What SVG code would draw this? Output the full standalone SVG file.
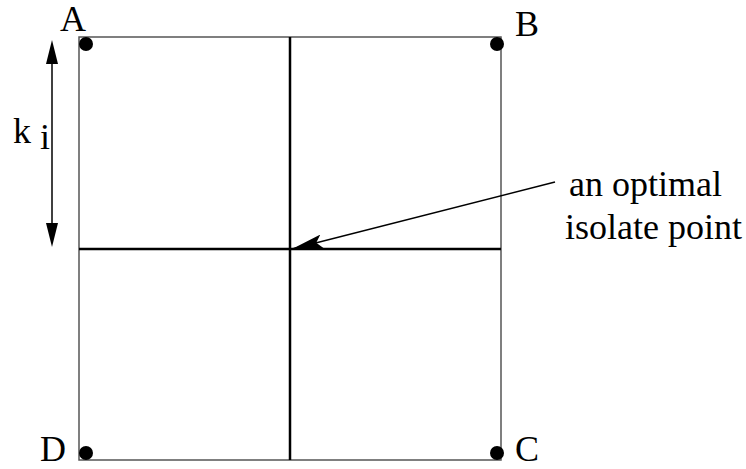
<svg xmlns="http://www.w3.org/2000/svg" width="746" height="469" viewBox="0 0 746 469">
<style>
text{font-family:'Liberation Serif','Times New Roman',serif;font-size:36px;fill:#000}
.frame{fill:none;stroke:#555;stroke-width:1.5}
.mid{stroke:#000;stroke-width:2.5}
.dot{fill:#000}
.conn{stroke:#000;stroke-width:1.5;fill:none}
</style>
<defs>
<marker id="sw" viewBox="0 0 32 14" refX="31" refY="7" markerWidth="32" markerHeight="14" markerUnits="userSpaceOnUse" orient="auto">
<path d="M0,0 L31,7 L0,14 L6,7 Z" fill="#000"/>
</marker>
</defs>
<g id="square">
<rect class="frame" x="79" y="37" width="422" height="423"/>
<line class="mid" x1="79" y1="249" x2="501" y2="249"/>
<line class="mid" x1="290" y1="37" x2="290" y2="460"/>
</g>
<g id="A"><circle class="dot" cx="86" cy="44" r="7"/><text x="60" y="31">A</text></g>
<g id="B"><circle class="dot" cx="497" cy="44" r="7"/><text x="515" y="36">B</text></g>
<g id="C"><circle class="dot" cx="497" cy="453" r="7"/><text x="515" y="461">C</text></g>
<g id="D"><circle class="dot" cx="86" cy="453" r="7"/><text x="40" y="461">D</text></g>
<g id="ki"><text x="13" y="143">k</text><text x="40" y="149">i</text></g>
<g id="note"><text x="569" y="196">an optimal</text><text x="565" y="239">isolate point</text></g>
<g id="connectors">
<line class="conn" x1="52" y1="64" x2="52" y2="223"/>
<path d="M52,40 L46,64 L58,64 Z" fill="#000"/>
<path d="M52,247 L46,223 L58,223 Z" fill="#000"/>
<line class="conn" x1="555" y1="182" x2="292" y2="249" marker-end="url(#sw)"/>
</g>
</svg>
